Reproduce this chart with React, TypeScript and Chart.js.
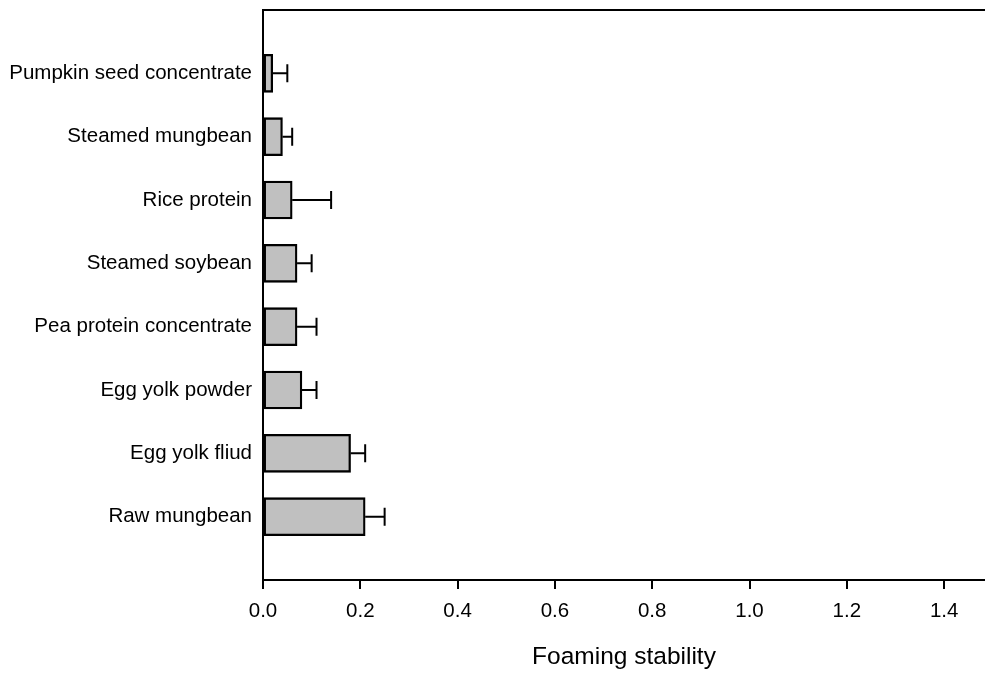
import React, { useEffect, useRef } from "react";
import { Chart, registerables } from "chart.js";

Chart.register(...registerables);

const categories: string[] = [
  "Pumpkin seed concentrate",
  "Steamed mungbean",
  "Rice protein",
  "Steamed soybean",
  "Pea protein concentrate",
  "Egg yolk powder",
  "Egg yolk fliud",
  "Raw mungbean",
];
const values: number[] = [0.02, 0.04, 0.06, 0.07, 0.07, 0.08, 0.18, 0.21];
const errors: number[] = [0.03, 0.02, 0.08, 0.03, 0.04, 0.03, 0.03, 0.04];
const xTicks: number[] = [0, 0.2, 0.4, 0.6, 0.8, 1.0, 1.2, 1.4];
const xMax = 1.484;
const xTitle = "Foaming stability";

const FONT = "'Liberation Sans', Arial, sans-serif";

const errorBarPlugin = {
  id: "errorBars",
  afterDatasetsDraw(chart: any) {
    const meta = chart.getDatasetMeta(0);
    const xs = chart.scales.x;
    const ctx = chart.ctx;
    ctx.save();
    ctx.strokeStyle = "#000";
    ctx.lineWidth = 2;
    meta.data.forEach((bar: any, i: number) => {
      const idx = i - 1;
      if (idx < 0 || idx >= values.length) return;
      const x0 = xs.getPixelForValue(values[idx]);
      const x1 = xs.getPixelForValue(values[idx] + errors[idx]);
      const y = bar.y;
      ctx.beginPath();
      ctx.moveTo(x0, y);
      ctx.lineTo(x1, y);
      ctx.moveTo(x1, y - 9);
      ctx.lineTo(x1, y + 9);
      ctx.stroke();
    });
    ctx.restore();
  },
};

const framePlugin = {
  id: "frame",
  afterDraw(chart: any) {
    const { ctx, chartArea } = chart;
    ctx.save();
    ctx.strokeStyle = "#000";
    ctx.lineWidth = 2;
    ctx.beginPath();
    ctx.moveTo(chartArea.left - 1, chartArea.top);
    ctx.lineTo(chart.width, chartArea.top);
    ctx.stroke();
    ctx.restore();
  },
};

export default function App() {
  const ref = useRef<HTMLCanvasElement | null>(null);

  useEffect(() => {
    if (!ref.current) return;
    const labels = ["", ...categories, ""];
    const data = [null, ...values, null];
    const chart = new Chart(ref.current, {
      type: "bar",
      data: {
        labels,
        datasets: [
          {
            data: data as any,
            backgroundColor: "#c0c0c0",
            borderColor: "#000",
            borderWidth: 2.3,
            borderSkipped: false,
            barThickness: 38,
          },
        ],
      },
      plugins: [errorBarPlugin, framePlugin],
      options: {
        indexAxis: "y",
        animation: false,
        responsive: false,
        layout: { padding: { top: 10, left: 0, right: 0, bottom: 0 } },
        plugins: {
          legend: { display: false },
          tooltip: { enabled: false },
        },
        scales: {
          x: {
            type: "linear",
            min: 0,
            max: xMax,
            afterBuildTicks: (scale: any) => {
              scale.ticks = xTicks.map((v) => ({ value: v }));
            },
            afterFit: (scale: any) => {
              scale.height = 95;
            },
            border: { display: true, color: "#000", width: 2 },
            grid: {
              drawOnChartArea: false,
              drawTicks: true,
              tickLength: 9,
              color: "#000",
              lineWidth: 2,
            },
            ticks: {
              color: "#000",
              padding: 10,
              font: { family: FONT, size: 20.5 },
              callback: (v: any) => Number(v).toFixed(1),
              maxRotation: 0,
            },
            title: {
              display: true,
              text: xTitle,
              color: "#000",
              font: { family: FONT, size: 24.5 },
              padding: { top: 0, bottom: 3 },
            },
          },
          y: {
            type: "category",
            offset: false,
            afterFit: (scale: any) => {
              scale.width = 263;
              scale.paddingTop = 0;
              scale.paddingBottom = 0;
            },
            border: { display: true, color: "#000", width: 2 },
            grid: { display: false, drawTicks: false, offset: false },
            ticks: {
              color: "#000",
              padding: 11,
              autoSkip: false,
              font: { family: FONT, size: 20.5 },
            },
          },
        },
      } as any,
    });
    return () => chart.destroy();
  }, []);

  return (
    <div style={{ position: "absolute", left: 0, top: 0, width: 985, height: 675, background: "#fff" }}>
      <canvas ref={ref} width={985} height={675} style={{ display: "block" }} />
    </div>
  );
}
